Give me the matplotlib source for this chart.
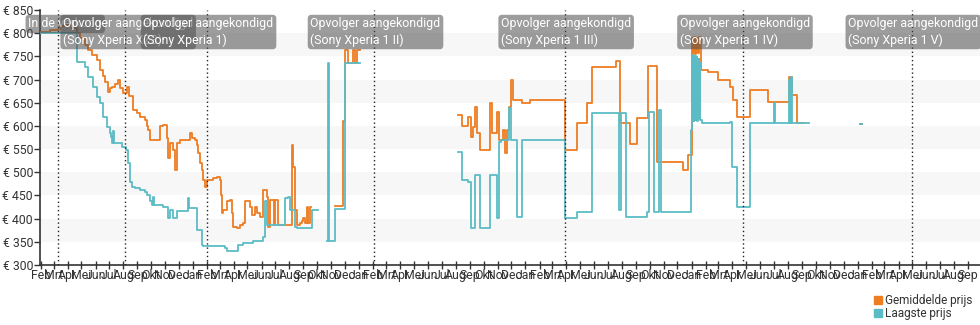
import numpy as np
import pandas as pd
import matplotlib
matplotlib.use('Agg')
import matplotlib.pyplot as plt
from matplotlib.lines import Line2D

plt.rcParams['font.family'] = ['Roboto', 'DejaVu Sans']

# Gemiddelde prijs (step data, NaN = no data)
avg_dates = [
    '2018-01-31', '2018-02-21', '2018-03-10', '2018-03-15', '2018-03-28', '2018-04-10',
    '2018-04-21', '2018-04-28', '2018-05-09', '2018-05-15', '2018-05-24', '2018-06-04',
    '2018-06-11', '2018-06-17', '2018-06-22', '2018-06-28', '2018-07-03', '2018-07-07',
    '2018-07-14', '2018-07-20', '2018-07-25', '2018-07-31', '2018-08-09', '2018-08-13',
    '2018-08-22', '2018-08-31', '2018-09-07', '2018-09-18', '2018-09-22', '2018-09-24',
    '2018-09-29', '2018-10-14', '2018-10-21', '2018-10-27', '2018-11-05', '2018-11-07',
    '2018-11-12', '2018-11-18', '2018-11-23', '2018-11-27', '2018-12-04', '2018-12-19',
    '2018-12-26', '2018-12-30', '2019-01-05', '2019-01-10', '2019-01-12', '2019-01-16',
    '2019-01-21', '2019-01-23', '2019-01-27', '2019-02-01', '2019-02-14', '2019-02-23',
    '2019-03-01', '2019-03-04', '2019-03-06', '2019-03-08', '2019-03-17', '2019-03-23',
    '2019-03-28', '2019-03-30', '2019-04-08', '2019-04-14', '2019-04-21', '2019-04-25',
    '2019-05-06', '2019-05-11', '2019-05-17', '2019-05-22', '2019-05-28', '2019-06-04',
    '2019-06-13', '2019-06-15', '2019-06-19', '2019-06-26', '2019-06-28', '2019-06-30',
    '2019-07-05', '2019-07-07', '2019-08-05', '2019-08-07', '2019-08-09', '2019-08-13',
    '2019-08-18', '2019-08-24', '2019-08-29', '2019-08-31', '2019-09-04', '2019-09-09',
    '2019-09-11', '2019-09-15', '2019-09-17',
    '2019-11-10', '2019-11-28', '2019-12-02', '2019-12-09', '2019-12-18', '2019-12-24',
    '2019-12-28', '2020-01-03',
    '2020-08-05', '2020-08-14', '2020-08-28', '2020-09-03', '2020-09-08', '2020-09-12',
    '2020-09-16', '2020-09-23', '2020-10-15', '2020-10-19', '2020-10-30', '2020-11-04',
    '2020-11-12', '2020-11-17', '2020-11-21', '2020-11-26', '2020-11-30', '2020-12-04',
    '2020-12-24', '2021-01-11', '2021-03-29', '2021-04-24', '2021-05-16', '2021-05-27',
    '2021-07-20', '2021-07-28', '2021-08-19', '2021-09-03', '2021-09-27', '2021-10-17',
    '2021-12-13', '2021-12-24',
    '2022-01-02', '2022-01-04', '2022-01-06', '2022-01-08', '2022-01-10', '2022-01-12',
    '2022-01-14', '2022-01-16', '2022-01-18', '2022-01-21',
    '2022-02-06', '2022-02-28', '2022-03-26', '2022-04-02', '2022-04-11', '2022-05-09',
    '2022-06-18', '2022-08-03', '2022-08-05', '2022-08-07', '2022-08-09', '2022-08-20',
    '2022-09-05',
    '2023-01-07', '2023-01-10',
]
avg_prices = [
    802, 806, 808, 815, 818, 812,
    800, 790, 775, 764, 752, 742,
    721, 708, 695, 673, 682, 684,
    690, 699, 681, 671, 684, 665,
    635, 628, 620, 613, 600, 592,
    570, 570, 600, 602, 574, 531,
    563, 548, 505, 563, 570, 570,
    585, 575, 570, 559, 542, 520,
    505, 484, 469, 484, 488, 490,
    484, 451, 413, 419, 437, 441,
    413, 382, 380, 387, 391, 437,
    425, 408, 426, 413, 404, 462,
    447, 382, 441, 441, 387, 441,
    441, 387, 387, 559, 512, 419,
    387, 391, 394, 402, 391, 426,
    391, 426, np.nan,
    428, 610, 764, 735, 764, 735,
    764, np.nan,
    624, 600, 620, 576, 598, 641,
    585, 548, 650, 585, 630, 570,
    591, 542, 591, 641, 699, 656,
    650, 656, 548, 606, 650, 728,
    740, 606, 560, 617, 730, 523,
    505, 538,
    790, 758, 792, 756, 788, 760,
    790, 757, 792, 721,
    717, 699, 684, 656, 620, 678,
    652, 706, 652, 706, 667, 606,
    np.nan,
    604, np.nan,
]

# Laagste prijs
low_dates = [
    '2018-01-31', '2018-04-21', '2018-05-08', '2018-05-15', '2018-05-26', '2018-06-04',
    '2018-06-11', '2018-06-17', '2018-06-26', '2018-07-03', '2018-07-05', '2018-07-07',
    '2018-07-09', '2018-07-11', '2018-07-29', '2018-08-07', '2018-08-11', '2018-08-16',
    '2018-08-20', '2018-08-27', '2018-09-07', '2018-09-18', '2018-09-22', '2018-09-29',
    '2018-10-03', '2018-10-05', '2018-10-07', '2018-10-27', '2018-11-07', '2018-11-12',
    '2018-11-18', '2018-11-27', '2018-12-21', '2018-12-23', '2019-01-10', '2019-01-21',
    '2019-01-23', '2019-03-12', '2019-03-17', '2019-04-10', '2019-04-21', '2019-05-13',
    '2019-06-04', '2019-06-08', '2019-06-13', '2019-07-22', '2019-07-29', '2019-08-02',
    '2019-08-13', '2019-08-18', '2019-09-20', '2019-10-02',
    '2019-10-22', '2019-10-26', '2019-10-28', '2019-11-10', '2019-12-02', '2020-01-03',
    '2020-08-05', '2020-08-14', '2020-08-28', '2020-09-03', '2020-09-12', '2020-09-23',
    '2020-10-15', '2020-10-30', '2020-11-04', '2020-11-08', '2020-11-26', '2020-11-30',
    '2020-12-04', '2020-12-14', '2020-12-24', '2021-03-29', '2021-04-24', '2021-05-27',
    '2021-07-26', '2021-07-30', '2021-08-10', '2021-09-25', '2021-09-29', '2021-10-10',
    '2021-10-21', '2021-10-25', '2021-12-30',
    '2022-01-03', '2022-01-04', '2022-01-05', '2022-01-06', '2022-01-07', '2022-01-08',
    '2022-01-09', '2022-01-10', '2022-01-11', '2022-01-12', '2022-01-13', '2022-01-14',
    '2022-01-15', '2022-01-16', '2022-01-17', '2022-01-18', '2022-01-19', '2022-01-20',
    '2022-01-24', '2022-03-26', '2022-04-01', '2022-04-12', '2022-05-09',
    '2022-07-02', '2022-07-04', '2022-08-03', '2022-08-05', '2022-08-07', '2022-08-09',
    '2022-09-10', '2022-09-16',
    '2023-01-07', '2023-01-10',
]
low_prices = [
    800, 738, 727, 706, 684, 663,
    649, 620, 598, 585, 577, 563,
    588, 563, 555, 548, 520, 480,
    469, 466, 462, 458, 451, 437,
    430, 447, 430, 426, 402, 419,
    402, 416, 445, 423, 376, 344,
    340, 336, 331, 343, 348, 352,
    360, 437, 387, 445, 447, 419,
    382, 380, 419, np.nan,
    352, 735, 352, 420, 735, np.nan,
    544, 484, 480, 380, 495, 380,
    495, 402, 566, 570, 638, 570,
    570, 404, 570, 402, 415, 628,
    419, 628, 404, 415, 630, 415,
    634, 415, 591,
    748, 615, 752, 610, 745, 620,
    750, 612, 742, 618, 748, 610,
    740, 615, 745, 620, 735, 612,
    606, 609, 512, 426, 606,
    650, 606, 700, 606, 705, 606,
    606, np.nan,
    604, np.nan,
]

# Events shown as dotted lines with labels
event_dates = ['2018-03-10', '2018-08-05', '2019-02-01', '2020-02-03', '2021-03-28',
               '2022-04-25', '2023-04-30']
event_labels = [
    'In de verkoop',
    'Opvolger aangekondigd\n(Sony Xperia XZ3)',
    'Opvolger aangekondigd\n(Sony Xperia 1)',
    'Opvolger aangekondigd\n(Sony Xperia 1 II)',
    'Opvolger aangekondigd\n(Sony Xperia 1 III)',
    'Opvolger aangekondigd\n(Sony Xperia 1 IV)',
    'Opvolger aangekondigd\n(Sony Xperia 1 V)',
]
label_shift = [-32, -64.5, -66, -66, -66, -66, -66]
month_names = ['Jan', 'Feb', 'Mrt', 'Apr', 'Mei', 'Jun', 'Jul', 'Aug', 'Sep', 'Okt', 'Nov', 'Dec']

orange = '#ee7d22'
teal = '#5bbcc6'
text_col = '#333333'

fig = plt.figure(figsize=(9.8, 3.25), dpi=100)
ax = fig.add_axes([40 / 980, 60 / 325, 940 / 980, 255 / 325])

for lo in range(350, 800, 100):
    ax.axhspan(lo, lo + 50, color='#f7f7f7', zorder=0, lw=0)

ax.plot(pd.to_datetime(avg_dates), avg_prices, drawstyle='steps-post', color=orange, lw=1.3, zorder=3)
ax.plot(pd.to_datetime(low_dates), low_prices, drawstyle='steps-post', color=teal, lw=1.3, zorder=4)

ax.set_ylim(300, 850)
ax.set_xlim(pd.Timestamp('2018-01-30'), pd.Timestamp('2023-09-27'))
ax.set_yticks(range(300, 851, 50))
ax.set_yticklabels([f'€ {v}' for v in range(300, 851, 50)])

ticks = pd.date_range('2018-02-01', '2023-09-01', freq='MS')
ax.set_xticks(ticks)
ax.set_xticklabels([month_names[t.month - 1] for t in ticks])

ax.tick_params(axis='y', direction='out', length=4, width=1, color=text_col, labelcolor=text_col,
               labelsize=8.8, pad=1)
ax.tick_params(axis='x', direction='inout', length=6, width=1, color=text_col, labelcolor=text_col,
               labelsize=8.8, pad=0)
for side in ['top', 'right']:
    ax.spines[side].set_visible(False)
for side in ['left', 'bottom']:
    ax.spines[side].set_color(text_col)
    ax.spines[side].set_linewidth(1.2)

# dotted event lines + label boxes
for i, (d, lab) in enumerate(zip(event_dates, event_labels)):
    d = pd.Timestamp(d)
    ax.axvline(d, color='#222222', ls=(0, (1, 2)), lw=1, zorder=5)
    ax.annotate(lab, xy=(d, 1), xycoords=('data', 'axes fraction'),
                xytext=(label_shift[i] + 2.5, -7.5), textcoords='offset pixels',
                ha='left', va='top', color='white', fontsize=8.9, linespacing=1.25,
                bbox=dict(boxstyle='round,pad=0.22,rounding_size=0.3', fc=(0.3, 0.3, 0.3, 0.55), ec='none'),
                zorder=10 + i, annotation_clip=False)

handles = [Line2D([], [], ls='none', marker='s', markersize=6, color=orange),
           Line2D([], [], ls='none', marker='s', markersize=6, color=teal)]
fig.legend(handles, ['Gemiddelde prijs', 'Laagste prijs'], loc='upper left',
           bbox_to_anchor=(868 / 980, 1 - 288 / 325), frameon=False, fontsize=8.5,
           handlelength=0.7, handletextpad=0.2, labelspacing=0.05, borderpad=0,
           labelcolor=text_col)

fig.savefig('out.png', dpi=100)
